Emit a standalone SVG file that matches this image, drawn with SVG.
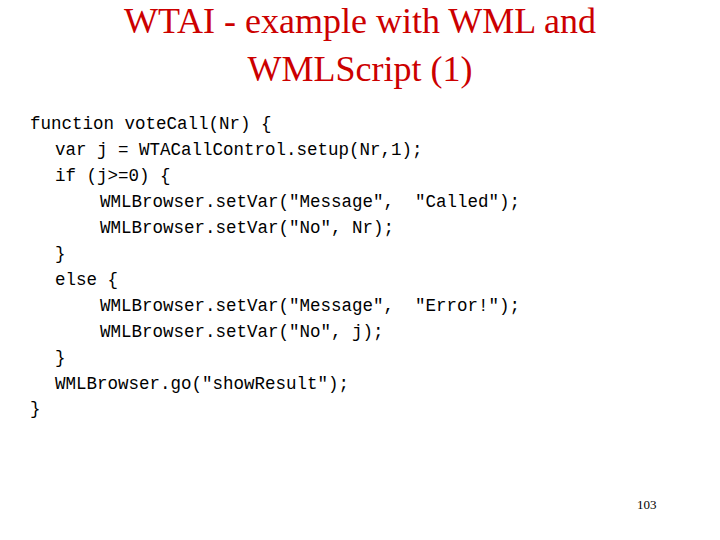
<svg xmlns="http://www.w3.org/2000/svg" width="720" height="540" viewBox="0 0 720 540">
<style>
.t{font-family:"Liberation Serif",serif;font-size:36px;fill:#cc0000;text-anchor:middle}
.c{font-family:"Liberation Mono",monospace;font-size:17.5px;fill:#000;white-space:pre}
.n{font-family:"Liberation Serif",serif;font-size:13px;fill:#000}
</style>
<rect width="720" height="540" fill="#fff"/>
<g id="title">
<text class="t" x="360" y="33">WTAI - example with WML and</text>
<text class="t" x="360" y="81">WMLScript (1)</text>
</g>
<g id="code" xml:space="preserve">
<text class="c" x="30" y="129">function voteCall(Nr) {</text>
<text class="c" x="55" y="155">var j = WTACallControl.setup(Nr,1);</text>
<text class="c" x="55" y="181">if (j&gt;=0) {</text>
<text class="c" x="100" y="207">WMLBrowser.setVar("Message",  "Called");</text>
<text class="c" x="100" y="233">WMLBrowser.setVar("No", Nr);</text>
<text class="c" x="55" y="259">}</text>
<text class="c" x="55" y="285">else {</text>
<text class="c" x="100" y="311">WMLBrowser.setVar("Message",  "Error!");</text>
<text class="c" x="100" y="337">WMLBrowser.setVar("No", j);</text>
<text class="c" x="55" y="363">}</text>
<text class="c" x="55" y="389">WMLBrowser.go("showResult");</text>
<text class="c" x="30" y="414">}</text>
</g>
<text class="n" x="637" y="509">103</text>
</svg>
